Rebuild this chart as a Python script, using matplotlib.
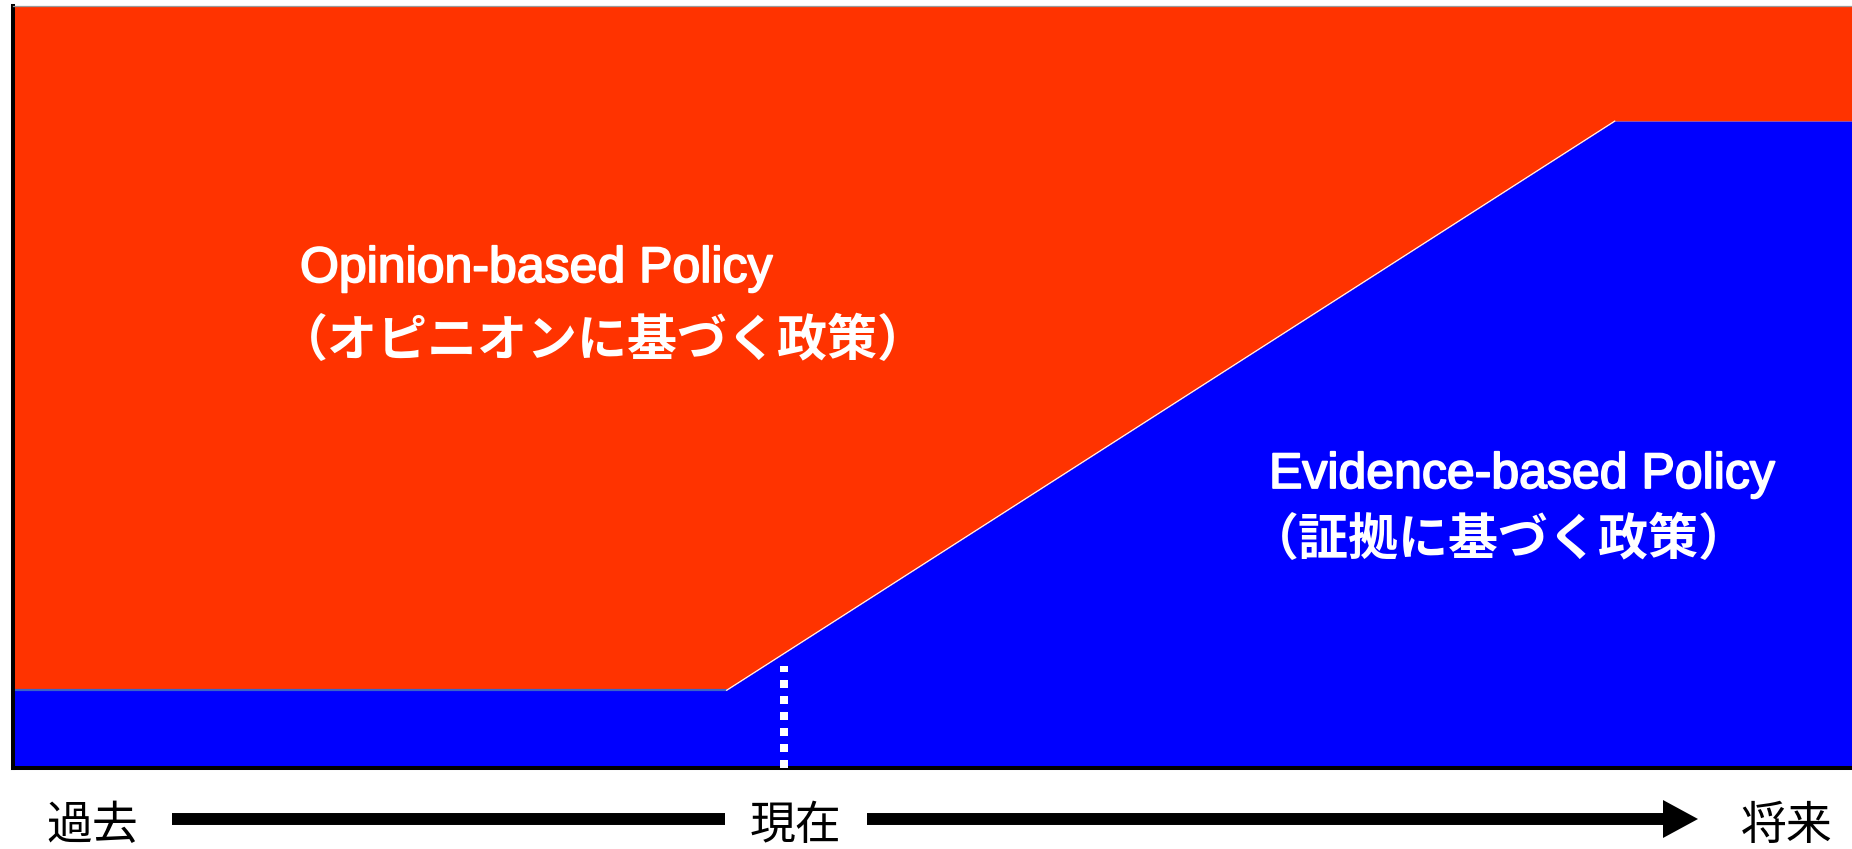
import matplotlib
matplotlib.use("Agg")
import matplotlib.pyplot as plt
from matplotlib.patches import Polygon
import matplotlib.patheffects as pe

# ---- data ----
time_points = [0, 38.8, 87.1, 100]          # time axis (past -> future)
evidence_share = [10.2, 10.2, 84.9, 84.9]    # share of evidence-based policy (%)
total_share = [100, 100, 100, 100]           # whole policy space (%)
present_x = 41.9                             # "now" marker position
present_marker_top = 13.4

opinion_label = "Opinion-based Policy"
opinion_label_jp = "（オピニオンに基づく政策）"
evidence_label = "Evidence-based Policy"
evidence_label_jp = "（証拠に基づく政策）"
timeline_labels = ["過去", "現在", "将来"]

RED = "#FF3300"
BLUE = "#0000FF"

W, H = 1852, 849
fig = plt.figure(figsize=(W / 100, H / 100), dpi=100)
fig.patch.set_facecolor("white")

ax = fig.add_axes([13 / W, 81 / H, (W - 13) / W, 762 / H])
ax.fill_between(time_points, evidence_share, total_share, color=RED, lw=0, zorder=1)
ax.fill_between(time_points, 0, evidence_share, color=BLUE, lw=0, zorder=1)
ax.plot(time_points[:2], evidence_share[:2], color="#3B63C8", lw=1.6, zorder=2,
        solid_capstyle="butt")
ax.plot(time_points[1:3], evidence_share[1:3], color="white", lw=0.8, zorder=2)
ax.plot([present_x, present_x], [0, present_marker_top], color="white", lw=5.76,
        linestyle=(0, (1, 1)), dash_capstyle="butt", zorder=4)
ax.set_xlim(0, 100)
ax.set_ylim(0, 100)
ax.set_xticks([])
ax.set_yticks([])
ax.spines["right"].set_visible(False)
ax.spines["left"].set_color("black")
ax.spines["left"].set_linewidth(2.9)
ax.spines["bottom"].set_color("black")
ax.spines["bottom"].set_linewidth(2.9)
ax.spines["top"].set_color("#9a9a9a")
ax.spines["top"].set_linewidth(0.9)

# overlay in pixel coordinates for annotations
ov = fig.add_axes([0, 0, 1, 1], zorder=5)
ov.set_xlim(0, W)
ov.set_ylim(H, 0)
ov.axis("off")
ov.patch.set_alpha(0)

latin = ["Liberation Sans", "DejaVu Sans"]
jp = ["Noto Sans CJK JP", "DejaVu Sans"]
thick = [pe.withStroke(linewidth=1.3, foreground="white")]

ov.text(300, 282, opinion_label, family=latin, fontsize=36, color="white",
        ha="left", va="baseline", path_effects=thick)
ov.text(278, 356, opinion_label_jp, family=jp, fontsize=36, color="white",
        fontweight="bold", ha="left", va="baseline")
ov.text(1269, 488, evidence_label, family=latin, fontsize=36, color="white",
        ha="left", va="baseline", path_effects=thick)
ov.text(1249, 555, evidence_label_jp, family=jp, fontsize=36, color="white",
        fontweight="bold", ha="left", va="baseline")

# timeline
label_x = [92, 795, 1787]
for lab, x in zip(timeline_labels, label_x):
    ov.text(x, 839, lab, family=jp, fontsize=33, color="black",
            ha="center", va="baseline")
ov.plot([172, 725], [819, 819], color="black", lw=8.6, solid_capstyle="butt")
ov.plot([867, 1664], [819, 819], color="black", lw=8.6, solid_capstyle="butt")
ov.add_patch(Polygon([[1663, 800], [1698, 819], [1663, 838]], closed=True,
                     color="black", lw=0))

fig.savefig("out.png", dpi=100, facecolor="white")
